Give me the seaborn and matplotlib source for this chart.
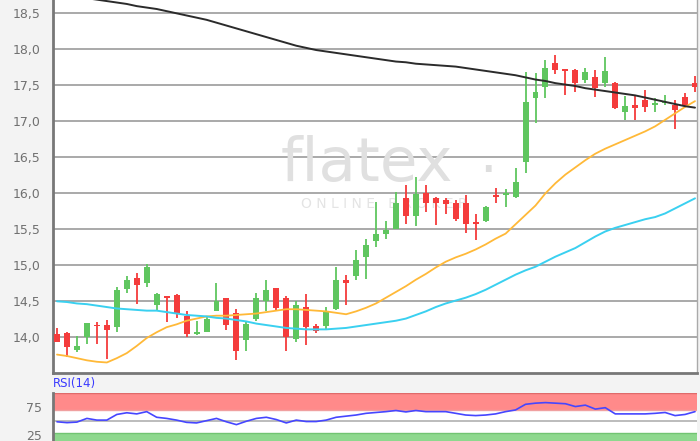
import matplotlib
matplotlib.use("Agg")
import matplotlib.pyplot as plt
import numpy as np
import pandas as pd
import seaborn as sns

# daily candles (oldest first)
opens = [14.05, 14.06, 13.82, 14.00, 14.17, 14.17, 14.14, 14.67, 14.82, 14.75,
         14.45, 14.57, 14.59, 14.30, 14.05, 14.08, 14.36, 14.54, 14.34, 13.96,
         14.25, 14.50, 14.68, 14.54, 13.98, 14.42, 14.15, 14.15, 14.39, 14.80,
         14.85, 15.11, 15.34, 15.44, 15.50, 15.93, 15.68, 16.01, 15.93, 15.91,
         15.86, 15.86, 15.58, 15.62, 15.98, 15.98, 15.95, 16.44, 17.33, 17.47,
         17.81, 17.72, 17.71, 17.58, 17.62, 17.53, 17.53, 17.13, 17.23, 17.29,
         17.23, 17.25, 17.23, 17.34, 17.53]
highs = [14.13, 14.07, 14.02, 14.20, 14.21, 14.24, 14.70, 14.85, 14.89, 15.02,
         14.62, 14.58, 14.60, 14.36, 14.22, 14.29, 14.76, 14.55, 14.39, 14.23,
         14.61, 14.80, 14.69, 14.58, 14.50, 14.60, 14.19, 14.42, 14.98, 14.87,
         15.21, 15.37, 15.88, 15.61, 16.02, 16.12, 16.22, 16.12, 15.95, 15.94,
         15.91, 15.98, 15.71, 15.82, 16.07, 16.06, 16.35, 17.68, 17.67, 17.85,
         17.92, 17.73, 17.72, 17.74, 17.71, 17.89, 17.55, 17.35, 17.37, 17.43,
         17.32, 17.37, 17.30, 17.39, 17.63]
lows = [13.93, 13.73, 13.79, 13.90, 13.90, 13.70, 14.08, 14.61, 14.46, 14.70,
        14.36, 14.21, 14.27, 14.00, 14.03, 14.07, 14.36, 14.10, 13.69, 13.81,
        14.23, 14.36, 14.36, 13.81, 13.93, 13.89, 14.06, 14.12, 14.38, 14.45,
        14.80, 14.81, 15.26, 15.36, 15.50, 15.58, 15.55, 15.74, 15.56, 15.71,
        15.62, 15.45, 15.35, 15.60, 15.86, 15.81, 15.93, 16.28, 16.97, 17.32,
        17.66, 17.37, 17.41, 17.53, 17.34, 17.48, 17.17, 17.02, 17.02, 17.13,
        17.13, 17.23, 16.90, 17.21, 17.41]
closes = [13.94, 13.87, 13.88, 14.20, 14.15, 14.10, 14.66, 14.80, 14.72, 14.97,
          14.60, 14.54, 14.33, 14.05, 14.07, 14.25, 14.50, 14.17, 13.81, 14.18,
          14.54, 14.66, 14.40, 14.00, 14.45, 14.14, 14.09, 14.36, 14.80, 14.75,
          15.07, 15.28, 15.43, 15.49, 15.86, 15.69, 15.99, 15.86, 15.87, 15.85,
          15.64, 15.58, 15.57, 15.81, 15.95, 16.00, 16.16, 17.27, 17.41, 17.74,
          17.71, 17.70, 17.53, 17.68, 17.46, 17.70, 17.19, 17.21, 17.19, 17.20,
          17.26, 17.27, 17.16, 17.23, 17.48]

# moving averages
ma_long = [18.80, 18.77, 18.74, 18.71, 18.69, 18.67, 18.65, 18.63, 18.60, 18.58,
           18.56, 18.53, 18.50, 18.47, 18.44, 18.41, 18.37, 18.33, 18.29, 18.25,
           18.21, 18.17, 18.13, 18.09, 18.05, 18.02, 17.99, 17.97, 17.95, 17.93,
           17.91, 17.89, 17.87, 17.85, 17.83, 17.82, 17.80, 17.79, 17.78, 17.77,
           17.76, 17.74, 17.72, 17.70, 17.68, 17.66, 17.64, 17.61, 17.58, 17.56,
           17.53, 17.51, 17.49, 17.46, 17.44, 17.42, 17.40, 17.38, 17.36, 17.33,
           17.30, 17.27, 17.24, 17.21, 17.19]
ma_short = [13.76, 13.74, 13.71, 13.68, 13.66, 13.65, 13.71, 13.78, 13.88, 13.99,
            14.07, 14.14, 14.18, 14.23, 14.26, 14.29, 14.30, 14.30, 14.31, 14.32,
            14.33, 14.35, 14.37, 14.39, 14.39, 14.38, 14.37, 14.36, 14.34, 14.32,
            14.36, 14.41, 14.47, 14.55, 14.63, 14.71, 14.80, 14.88, 14.97, 15.05,
            15.11, 15.16, 15.22, 15.29, 15.37, 15.44, 15.57, 15.70, 15.83, 16.00,
            16.14, 16.26, 16.36, 16.46, 16.55, 16.62, 16.68, 16.74, 16.80, 16.86,
            16.93, 17.02, 17.11, 17.20, 17.28]
ma_mid = [14.50, 14.49, 14.47, 14.46, 14.44, 14.42, 14.40, 14.39, 14.38, 14.37,
          14.37, 14.35, 14.33, 14.31, 14.30, 14.29, 14.27, 14.26, 14.24, 14.22,
          14.19, 14.17, 14.15, 14.13, 14.12, 14.11, 14.11, 14.11, 14.12, 14.13,
          14.15, 14.17, 14.19, 14.21, 14.23, 14.26, 14.31, 14.36, 14.42, 14.47,
          14.51, 14.55, 14.60, 14.66, 14.73, 14.80, 14.87, 14.93, 14.98, 15.05,
          15.12, 15.18, 15.24, 15.32, 15.40, 15.47, 15.52, 15.56, 15.60, 15.64,
          15.67, 15.72, 15.79, 15.86, 15.93]

rsi = [49, 47.5, 48.5, 55, 52, 52, 62, 65, 63, 67,
       57, 55, 52, 48, 47, 51, 55, 49, 44, 50,
       55, 57, 53, 47, 52, 49.5, 49.5, 52, 57, 59,
       61, 64, 65.5, 67, 69, 66.5, 69, 67, 67, 67,
       64, 61, 60, 61, 63, 67, 70, 80, 82, 83,
       82, 81, 76, 78.5, 71.5, 74, 63, 63, 63, 63,
       64, 65.5, 60, 62, 67]

price_ticks = [14.0, 14.5, 15.0, 15.5, 16.0, 16.5, 17.0, 17.5, 18.0, 18.5]
rsi_ticks = [25, 75]

df = pd.DataFrame({"open": opens, "high": highs, "low": lows, "close": closes,
                   "ma_long": ma_long, "ma_short": ma_short, "ma_mid": ma_mid,
                   "rsi": rsi})
df["day"] = np.arange(len(df))

sns.set_theme(style="white")
plt.rcParams["font.family"] = ["DejaVu Sans"]

UP = "#5fc65f"
DOWN = "#f43c3c"
BG = "#f3f3f3"
TXT = "#707070"

fig = plt.figure(figsize=(7, 4.41), dpi=100, facecolor=BG)
ax = fig.add_axes([53 / 700, 1 - 373 / 441, 644 / 700, 373 / 441])
ax2 = fig.add_axes([53 / 700, 0, 644 / 700, 48 / 441])

# --- price panel ---
ax.set_facecolor("white")
for t in price_ticks:
    ax.axhline(t, color="#a3a3a3", lw=1.3, zorder=0)

# watermark
ax.text(0.487, 0.515, "flatex", transform=ax.transAxes, ha="center", va="baseline",
        fontsize=44, color="#e0e0e0", zorder=0.5)
ax.text(0.675, 0.535, "\u00b7", transform=ax.transAxes, ha="center", va="center",
        fontsize=40, color="#dedede", zorder=0.5)
ax.text(0.515, 0.452, "O N L I N E   B R O K E R", transform=ax.transAxes,
        ha="center", va="center", fontsize=10, color="#e4e4e4", zorder=0.5)

up = df["close"] >= df["open"]
colors = np.where(up, UP, DOWN)
ax.vlines(df["day"], df["low"], df["high"], colors=colors, lw=1.3, zorder=2)
body_lo = df[["open", "close"]].min(axis=1)
body_h = (df["close"] - df["open"]).abs().clip(lower=0.025)
ax.bar(df["day"], body_h, bottom=body_lo, width=0.6, color=colors, zorder=3,
       linewidth=0)

sns.lineplot(data=df, x="day", y="ma_short", ax=ax, color="#ffb938", lw=1.3, zorder=4)
sns.lineplot(data=df, x="day", y="ma_mid", ax=ax, color="#3ad0f0", lw=1.4, zorder=4)
sns.lineplot(data=df, x="day", y="ma_long", ax=ax, color="#2b2b2b", lw=1.4, zorder=4)

ax.set_xlim(-0.4, 64.2)
ax.set_ylim(13.504, 18.685)
ax.set_yticks(price_ticks)
ax.set_yticklabels([f"{t:.1f}".replace(".", ",") for t in price_ticks])
ax.set_xticks([])
ax.set_xlabel("")
ax.set_ylabel("")
ax.tick_params(axis="y", length=0, pad=9, labelsize=9, labelcolor=TXT)
for side in ["left", "bottom"]:
    ax.spines[side].set_color("#777777")
    ax.spines[side].set_linewidth(2)
ax.spines["top"].set_visible(False)
ax.spines["right"].set_color("#aaaaaa")
ax.spines["right"].set_linewidth(1)

# --- RSI panel ---
ax2.set_facecolor("white")
ax2.axhspan(70, 100, color="#ff8a8a", zorder=0, lw=0)
ax2.axhline(100, color="#e06a6a", lw=1, zorder=1)
ax2.axhline(70, color="#f0a0a0", lw=1, zorder=1)
ax2.axhspan(0, 30, color="#8ed88e", zorder=0, lw=0)
ax2.axhline(30, color="#72c472", lw=1, zorder=1)
ax2.axhline(50, color="#b0b0b0", lw=1.2, zorder=1)
sns.lineplot(data=df, x="day", y="rsi", ax=ax2, color="#4646ff", lw=1.2, zorder=3)
ax2.set_xlim(-0.4, 64.2)
ax2.set_ylim(15, 100)
ax2.set_yticks(rsi_ticks)
ax2.set_xticks([])
ax2.set_xlabel("")
ax2.set_ylabel("")
ax2.tick_params(axis="y", length=4, width=1, color="#999999", pad=4,
                labelsize=9, labelcolor=TXT)
ax2.spines["left"].set_color("#777777")
ax2.spines["left"].set_linewidth(2)
for side in ["top", "right", "bottom"]:
    ax2.spines[side].set_visible(False)
fig.text(53 / 700, 1 - 384 / 441, "RSI(14)", color="#3a3aff", fontsize=8.5,
         ha="left", va="center")

fig.savefig("out.png", dpi=100, facecolor=BG)
